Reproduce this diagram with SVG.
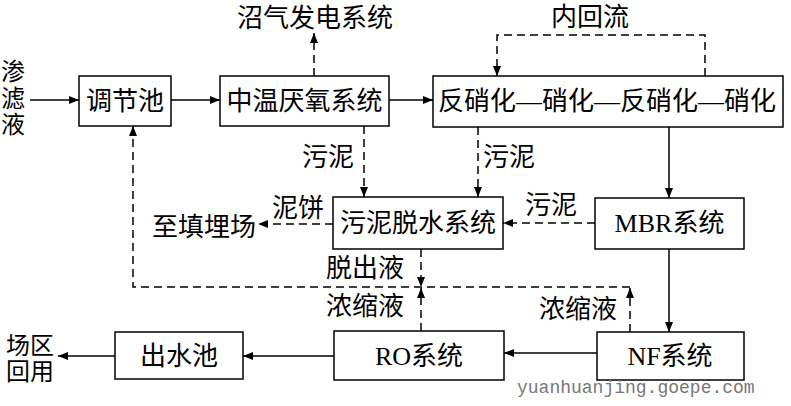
<svg xmlns="http://www.w3.org/2000/svg" width="791" height="406" viewBox="0 0 791 406">
<defs>
<marker id="ah" markerUnits="userSpaceOnUse" markerWidth="11" markerHeight="9" refX="10" refY="4" orient="auto">
<path d="M0,0 L10,4 L0,8 z" fill="#000"/>
</marker>
<style>
.box{fill:#fff;stroke:#000;stroke-width:1.5}
.t{font-family:"Liberation Serif","Noto Sans CJK SC",serif;font-size:26px;fill:#000;text-anchor:middle;dominant-baseline:central}
.s{font-size:24px}
.c{fill:none;stroke:#000;stroke-width:1.5;marker-end:url(#ah)}
.d{stroke-dasharray:8,5}
.wm{font-family:"Liberation Mono",monospace;font-size:18px;fill:#777;dominant-baseline:central}
</style>
</defs>
<rect width="791" height="406" fill="#fff"/>
<g id="connectors">
<line class="c" x1="30" y1="100" x2="79" y2="100"/>
<line class="c" x1="171" y1="100" x2="220" y2="100"/>
<line class="c" x1="389" y1="100" x2="433" y2="100"/>
<line class="c d" x1="314" y1="76" x2="314" y2="33"/>
<path class="c d" d="M705,76 V35 H497 V76"/>
<line class="c d" x1="364" y1="126" x2="364" y2="197"/>
<line class="c d" x1="478" y1="127" x2="478" y2="197"/>
<line class="c" x1="669" y1="127" x2="669" y2="198"/>
<line class="c d" x1="595" y1="223" x2="503" y2="223"/>
<line class="c d" x1="333" y1="224" x2="258" y2="224"/>
<line class="c d" x1="421" y1="249" x2="421" y2="287"/>
<line class="c d" x1="421" y1="331" x2="421" y2="288"/>
<line class="c d" x1="630" y1="332" x2="630" y2="288"/>
<path class="c d" d="M630,287 H133 V126"/>
<line class="c" x1="669" y1="249" x2="669" y2="332"/>
<line class="c" x1="597" y1="353" x2="504" y2="353"/>
<line class="c" x1="334" y1="356" x2="243" y2="356"/>
<line class="c" x1="115" y1="356" x2="58" y2="356"/>
</g>
<g id="n-input">
<text class="t s" x="13" y="72">渗</text>
<text class="t s" x="13" y="99">滤</text>
<text class="t s" x="13" y="125">液</text>
</g>
<g id="n-tiaojiechi">
<rect class="box" x="79" y="76" width="92" height="50"/>
<text class="t" x="125" y="101">调节池</text>
</g>
<g id="n-zhongwen">
<rect class="box" x="220" y="76" width="169" height="50"/>
<text class="t" x="304.5" y="101">中温厌氧系统</text>
</g>
<g id="n-zhaoqi">
<text class="t" x="315" y="18">沼气发电系统</text>
</g>
<g id="n-fanxiaohua">
<rect class="box" x="433" y="76" width="350" height="51"/>
<text class="t" x="607" y="101">反硝化—硝化—反硝化—硝化</text>
</g>
<g id="n-wunituoshui">
<rect class="box" x="333" y="197" width="170" height="52"/>
<text class="t" x="418" y="223">污泥脱水系统</text>
</g>
<g id="n-mbr">
<rect class="box" x="595" y="198" width="149" height="51"/>
<text class="t" x="669.5" y="223">MBR系统</text>
</g>
<g id="n-nf">
<rect class="box" x="597" y="332" width="147" height="48"/>
<text class="t" x="670" y="356">NF系统</text>
</g>
<g id="n-ro">
<rect class="box" x="334" y="331" width="170" height="49"/>
<text class="t" x="419" y="356">RO系统</text>
</g>
<g id="n-chushuichi">
<rect class="box" x="115" y="332" width="128" height="47"/>
<text class="t" x="179" y="356">出水池</text>
</g>
<g id="n-landfill">
<text class="t" x="204" y="227">至填埋场</text>
</g>
<g id="n-reuse">
<text class="t s" x="30" y="346">场区</text>
<text class="t s" x="30" y="372">回用</text>
</g>
<g id="labels">
<text class="t" x="590" y="17">内回流</text>
<text class="t" x="328" y="157">污泥</text>
<text class="t" x="509" y="157">污泥</text>
<text class="t" x="551" y="205">污泥</text>
<text class="t" x="298" y="208">泥饼</text>
<text class="t" x="365" y="268">脱出液</text>
<text class="t" x="365" y="306">浓缩液</text>
<text class="t" x="578" y="309">浓缩液</text>
<text class="wm" x="517" y="388">yuanhuanjing.goepe.com</text>
</g>
</svg>
